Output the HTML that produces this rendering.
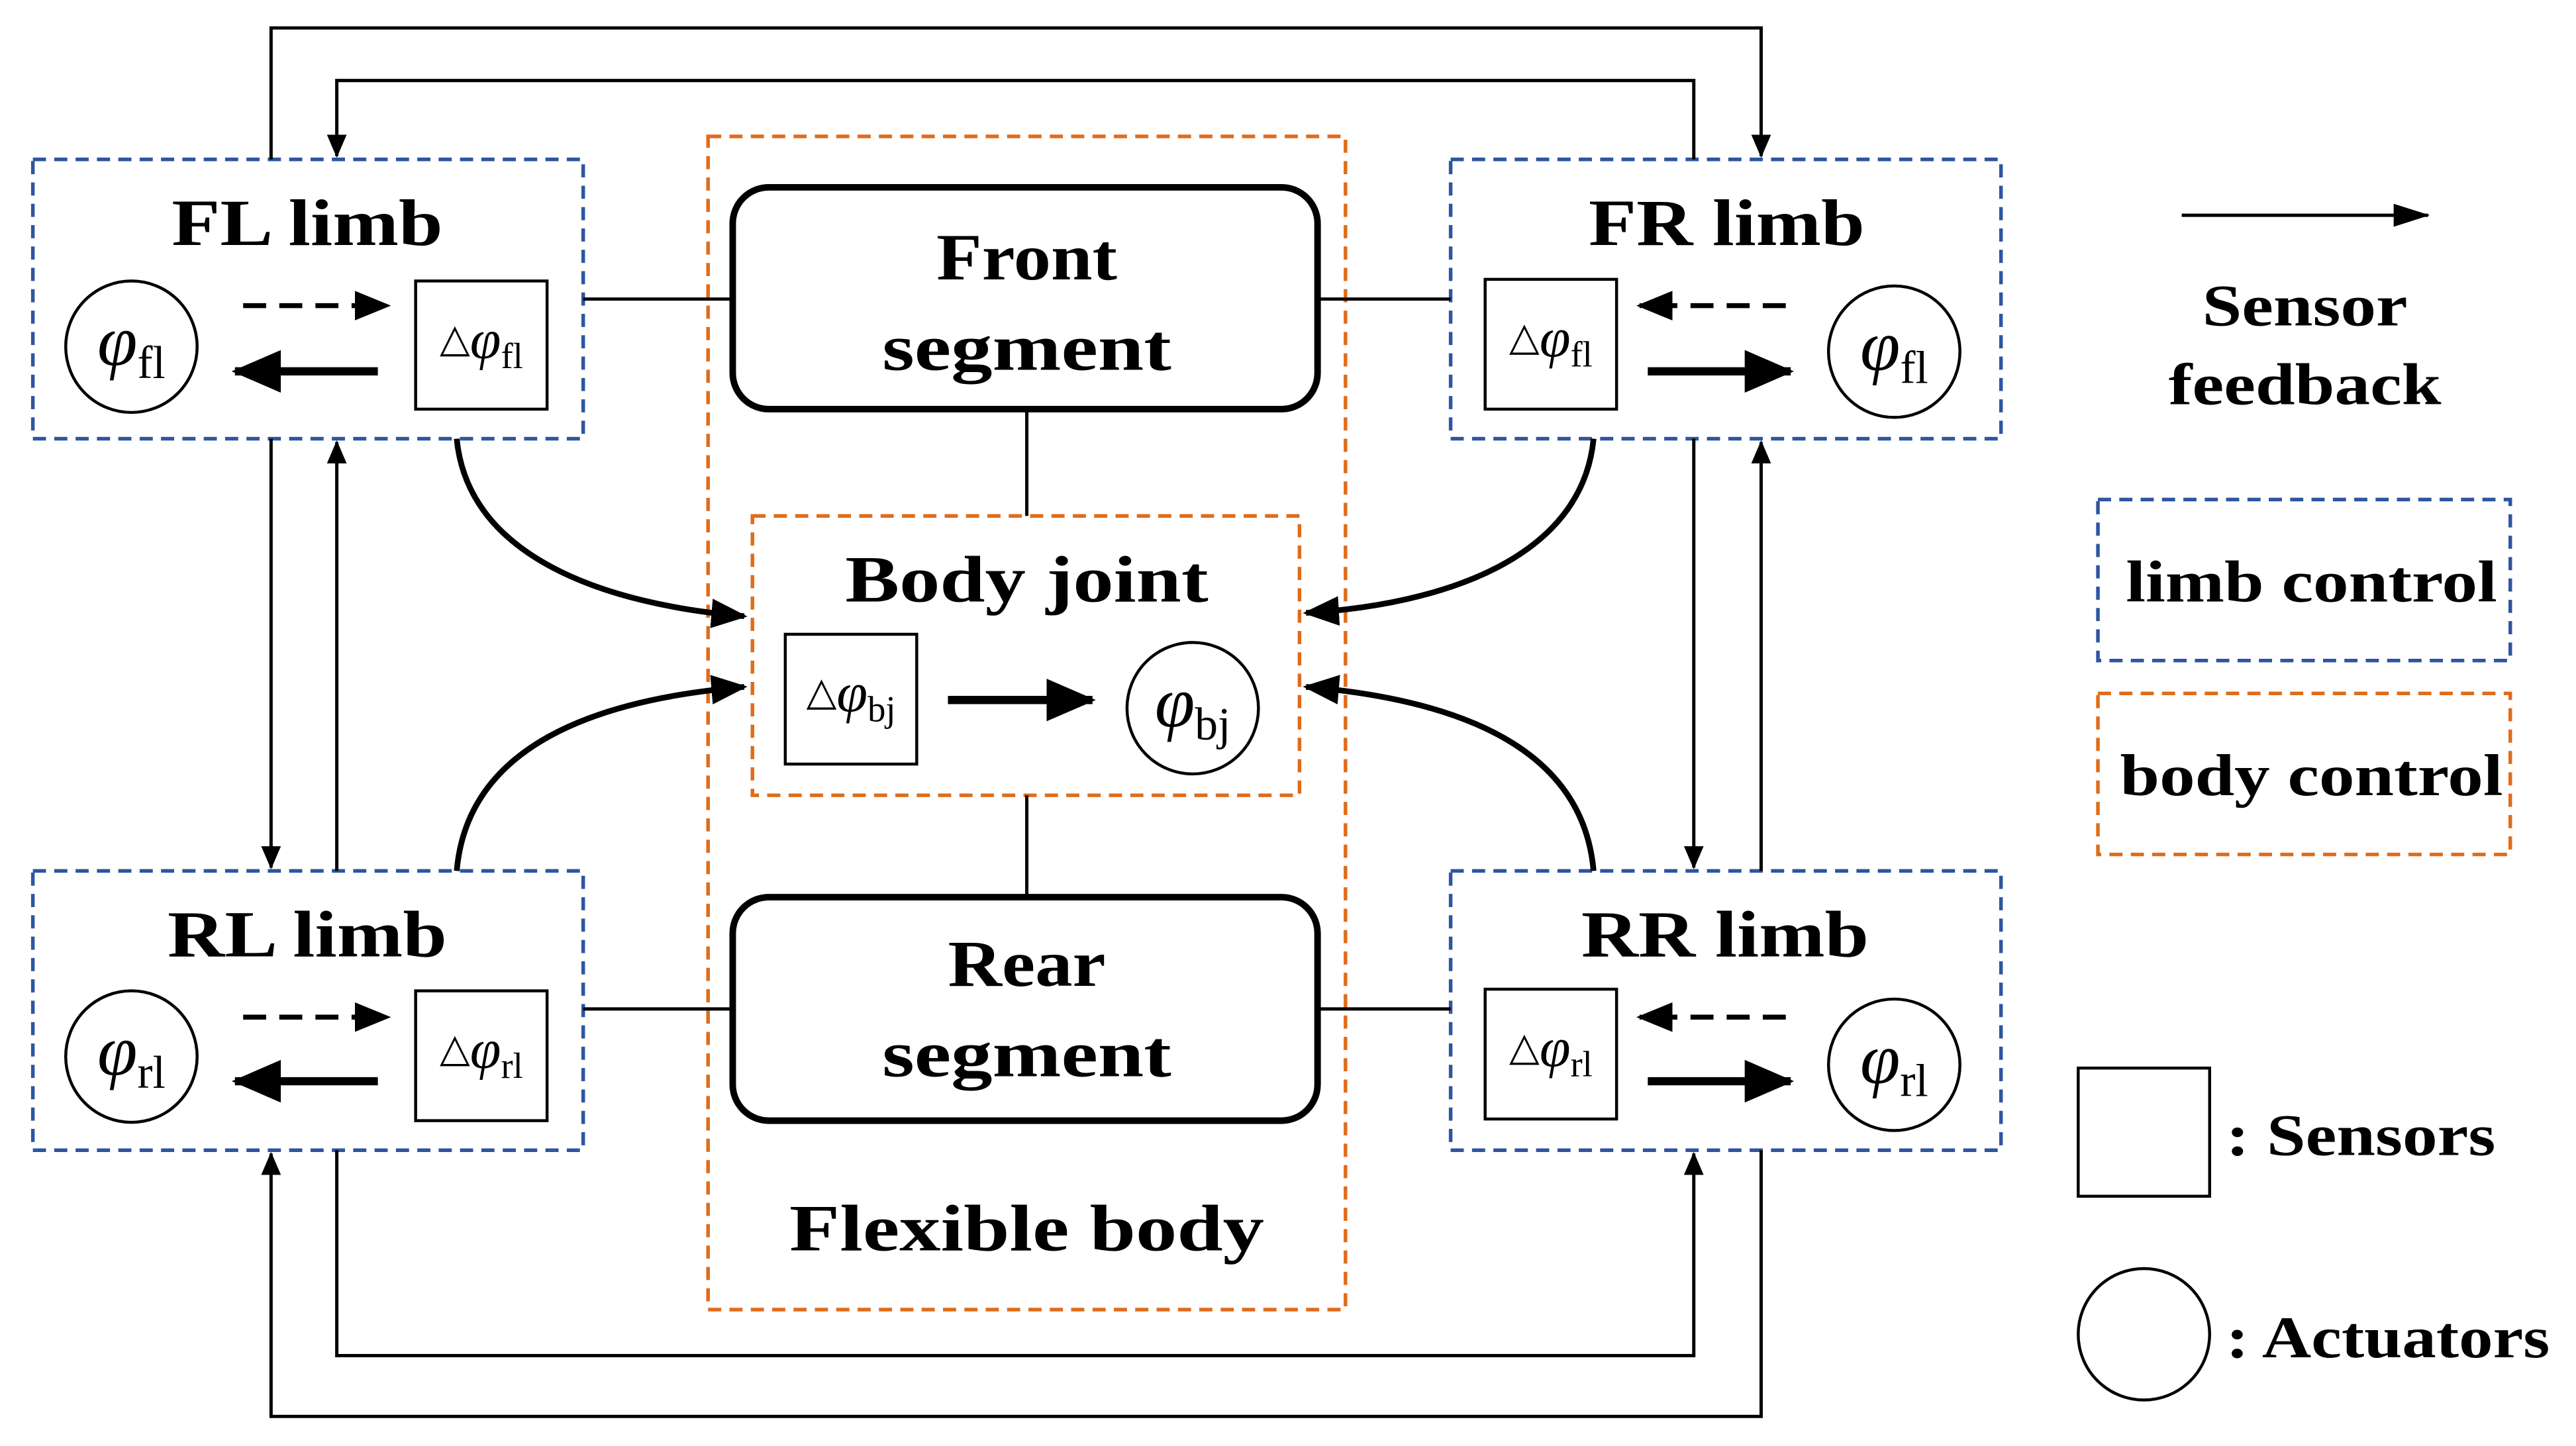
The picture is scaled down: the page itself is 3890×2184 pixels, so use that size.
<!DOCTYPE html>
<html><head><meta charset="utf-8"><style>html,body{margin:0;padding:0;background:#fff}svg{display:block}</style></head>
<body>
<svg xmlns="http://www.w3.org/2000/svg" width="3890" height="2184" viewBox="0 0 1568 880" preserveAspectRatio="none">
<defs>
<marker id="a" markerWidth="14" markerHeight="12" refX="13" refY="6" orient="auto" markerUnits="userSpaceOnUse" viewBox="0 0 14 12"><path d="M0,0 L14,6 L0,12 z" fill="#000"/></marker>
<marker id="d" markerWidth="22" markerHeight="14" refX="21" refY="7" orient="auto" markerUnits="userSpaceOnUse" viewBox="0 0 22 14"><path d="M0,0 L22,7 L0,14 z" fill="#000"/></marker>
<marker id="b" markerWidth="22" markerHeight="18" refX="20" refY="9" orient="auto" markerUnits="userSpaceOnUse" viewBox="0 0 22 18"><path d="M0,0 L22,9 L0,18 z" fill="#000"/></marker>
<marker id="c" markerWidth="30" markerHeight="26" refX="28" refY="13" orient="auto" markerUnits="userSpaceOnUse" viewBox="0 0 30 26"><path d="M0,0 L30,13 L0,26 z" fill="#000"/></marker>
</defs>
<g font-family="Liberation Serif, serif" font-weight="bold" text-anchor="middle" fill="#000">
<g fill="none" stroke="#2e55a0" stroke-width="2.2" stroke-dasharray="8,5">
<rect x="20" y="97" width="335" height="170"/>
<rect x="883" y="97" width="335" height="170"/>
<rect x="20" y="530" width="335" height="170"/>
<rect x="883" y="530" width="335" height="170"/>
<rect x="1277" y="304" width="251" height="98"/>
</g>
<g fill="none" stroke="#e06c1a" stroke-width="2.2" stroke-dasharray="8,5">
<rect x="431" y="83" width="388" height="714"/>
<rect x="458" y="314" width="333" height="170"/>
<rect x="1277" y="422" width="251" height="98"/>
</g>
<g fill="none" stroke="#000" stroke-width="4">
<rect x="446" y="114" width="356" height="135" rx="22"/>
<rect x="446" y="546" width="356" height="136" rx="22"/>
</g>
<g fill="none" stroke="#000" stroke-width="2">
<line x1="355" y1="182" x2="446" y2="182"/><line x1="802" y1="182" x2="883" y2="182"/>
<line x1="355" y1="614" x2="446" y2="614"/><line x1="802" y1="614" x2="883" y2="614"/>
<line x1="625" y1="249" x2="625" y2="314"/><line x1="625" y1="484" x2="625" y2="546"/>
<polyline points="165,97 165,17 1072,17 1072,95" marker-end="url(#a)"/>
<polyline points="1031,97 1031,49 205,49 205,95" marker-end="url(#a)"/>
<polyline points="205,700 205,825 1031,825 1031,702" marker-end="url(#a)"/>
<polyline points="1072,700 1072,862 165,862 165,702" marker-end="url(#a)"/>
<line x1="165" y1="267" x2="165" y2="528" marker-end="url(#a)"/>
<line x1="205" y1="530" x2="205" y2="269" marker-end="url(#a)"/>
<line x1="1031" y1="267" x2="1031" y2="528" marker-end="url(#a)"/>
<line x1="1072" y1="530" x2="1072" y2="269" marker-end="url(#a)"/>
<line x1="1328" y1="131" x2="1478" y2="131" marker-end="url(#d)"/>
</g>
<g fill="none" stroke="#000" stroke-width="3.5">
<path d="M278,267 C285,340 370,368 453,375" marker-end="url(#b)"/>
<path d="M278,530 C285,450 370,425 453,418" marker-end="url(#b)"/>
<path d="M970,267 C963,340 878,368 795,373" marker-end="url(#b)"/>
<path d="M970,530 C963,450 878,425 795,418" marker-end="url(#b)"/>
</g>
<g fill="none" stroke="#000">
<line x1="148" y1="186" x2="236" y2="186" stroke-width="3" stroke-dasharray="14,8" marker-end="url(#b)"/>
<line x1="230" y1="226" x2="143" y2="226" stroke-width="5" marker-end="url(#c)"/>
<line x1="1087" y1="186" x2="998" y2="186" stroke-width="3" stroke-dasharray="14,8" marker-end="url(#b)"/>
<line x1="1003" y1="226" x2="1090" y2="226" stroke-width="5" marker-end="url(#c)"/>
<line x1="148" y1="619" x2="236" y2="619" stroke-width="3" stroke-dasharray="14,8" marker-end="url(#b)"/>
<line x1="230" y1="658" x2="143" y2="658" stroke-width="5" marker-end="url(#c)"/>
<line x1="1087" y1="619" x2="998" y2="619" stroke-width="3" stroke-dasharray="14,8" marker-end="url(#b)"/>
<line x1="1003" y1="658" x2="1090" y2="658" stroke-width="5" marker-end="url(#c)"/>
<line x1="577" y1="426" x2="665" y2="426" stroke-width="5" marker-end="url(#c)"/>
</g>
<g fill="#fff" stroke="#000" stroke-width="1.8">
<rect x="253" y="171" width="80" height="78"/><rect x="904" y="170" width="80" height="79"/>
<rect x="253" y="603" width="80" height="79"/><rect x="904" y="602" width="80" height="79"/>
<rect x="478" y="386" width="80" height="79"/><rect x="1265" y="650" width="80" height="78"/>
<circle cx="80" cy="211" r="40"/><circle cx="1153" cy="214" r="40"/>
<circle cx="80" cy="643" r="40"/><circle cx="1153" cy="648" r="40"/>
<circle cx="726" cy="431" r="40"/><circle cx="1305" cy="812" r="40"/>
</g>
<g font-size="40" lengthAdjust="spacingAndGlyphs">
<text x="187" y="149" textLength="165" lengthAdjust="spacingAndGlyphs">FL limb</text>
<text x="1051" y="149" textLength="168" lengthAdjust="spacingAndGlyphs">FR limb</text>
<text x="187" y="582" textLength="170" lengthAdjust="spacingAndGlyphs">RL limb</text>
<text x="1050" y="582" textLength="175" lengthAdjust="spacingAndGlyphs">RR limb</text>
<text x="625" y="170" textLength="110" lengthAdjust="spacingAndGlyphs">Front</text>
<text x="625" y="225" textLength="176" lengthAdjust="spacingAndGlyphs">segment</text>
<text x="625" y="600" textLength="96" lengthAdjust="spacingAndGlyphs">Rear</text>
<text x="625" y="655" textLength="176" lengthAdjust="spacingAndGlyphs">segment</text>
<text x="625" y="366" textLength="221" lengthAdjust="spacingAndGlyphs">Body joint</text>
<text x="625" y="761" textLength="289" lengthAdjust="spacingAndGlyphs">Flexible body</text>
</g>
<g font-size="36">
<text x="1403" y="198" textLength="125" lengthAdjust="spacingAndGlyphs">Sensor</text>
<text x="1403" y="246" textLength="166" lengthAdjust="spacingAndGlyphs">feedback</text>
<text x="1407" y="366" textLength="226" lengthAdjust="spacingAndGlyphs">limb control</text>
<text x="1407" y="484" textLength="233" lengthAdjust="spacingAndGlyphs">body control</text>
<text x="1355" y="703" text-anchor="start" textLength="164" lengthAdjust="spacingAndGlyphs">: Sensors</text>
<text x="1355" y="826" text-anchor="start" textLength="197" lengthAdjust="spacingAndGlyphs">: Actuators</text>
</g>
<g font-weight="normal" font-style="italic" font-size="44">
<text x="80" y="222">φ<tspan font-style="normal" font-size="28" dy="8">fl</tspan></text>
<text x="1153" y="225">φ<tspan font-style="normal" font-size="28" dy="8">fl</tspan></text>
<text x="80" y="654">φ<tspan font-style="normal" font-size="28" dy="8">rl</tspan></text>
<text x="1153" y="659">φ<tspan font-style="normal" font-size="28" dy="8">rl</tspan></text>
<text x="726" y="442">φ<tspan font-style="normal" font-size="28" dy="8">bj</tspan></text>
</g>
<g font-weight="normal" font-size="34">
<text x="293" y="218"><tspan font-size="24" dy="-4">△</tspan><tspan font-style="italic" dy="4">φ</tspan><tspan font-size="22" dy="6">fl</tspan></text>
<text x="944" y="217"><tspan font-size="24" dy="-4">△</tspan><tspan font-style="italic" dy="4">φ</tspan><tspan font-size="22" dy="6">fl</tspan></text>
<text x="293" y="650"><tspan font-size="24" dy="-4">△</tspan><tspan font-style="italic" dy="4">φ</tspan><tspan font-size="22" dy="6">rl</tspan></text>
<text x="944" y="649"><tspan font-size="24" dy="-4">△</tspan><tspan font-style="italic" dy="4">φ</tspan><tspan font-size="22" dy="6">rl</tspan></text>
<text x="518" y="433"><tspan font-size="24" dy="-4">△</tspan><tspan font-style="italic" dy="4">φ</tspan><tspan font-size="22" dy="6">bj</tspan></text>
</g>
</g>
</svg>
</body></html>
